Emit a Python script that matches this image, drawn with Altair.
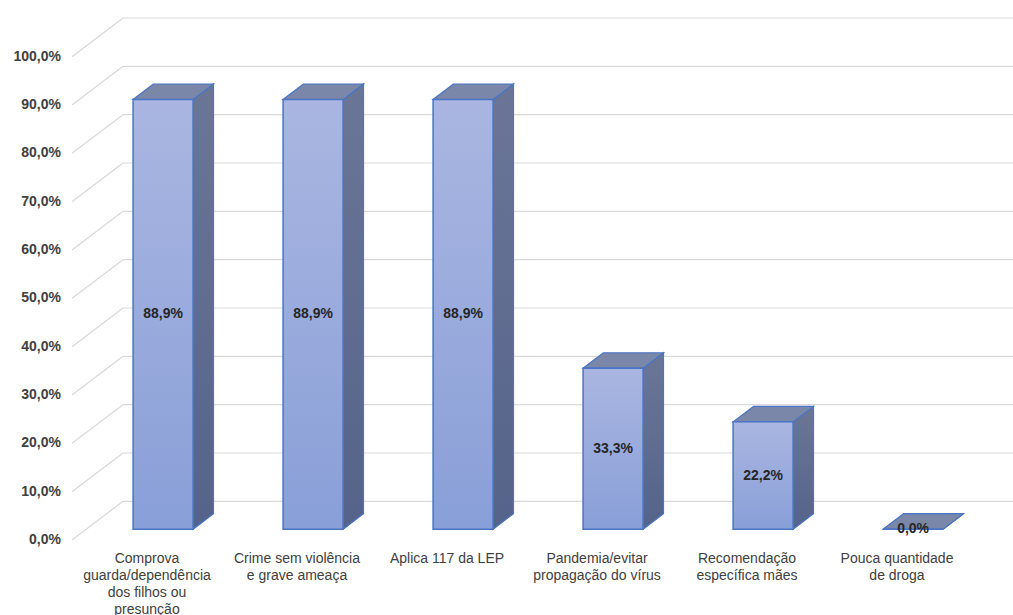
import altair as alt
import pandas as pd

# ---------------- data ----------------
categories = [
    "Comprova guarda/dependência dos filhos ou presunção",
    "Crime sem violência e grave ameaça",
    "Aplica 117 da LEP",
    "Pandemia/evitar propagação do vírus",
    "Recomendação específica mães",
    "Pouca quantidade de droga",
]
category_lines = [
    ["Comprova", "guarda/dependência", "dos filhos ou", "presunção"],
    ["Crime sem violência", "e grave ameaça"],
    ["Aplica 117 da LEP"],
    ["Pandemia/evitar", "propagação do vírus"],
    ["Recomendação", "específica mães"],
    ["Pouca quantidade", "de droga"],
]
values = [88.9, 88.9, 88.9, 33.3, 22.2, 0.0]
y_ticks = [0, 10, 20, 30, 40, 50, 60, 70, 80, 90, 100]
y_tick_labels = ["0,0%", "10,0%", "20,0%", "30,0%", "40,0%", "50,0%",
                 "60,0%", "70,0%", "80,0%", "90,0%", "100,0%"]

# ---------------- 3D projection settings (style) ----------------
DU = 0.34      # full depth, horizontal shift (category units)
DV = 8.0       # full depth, vertical shift (percentage units)
GAP = 0.312    # gap on left of bar within a category
BARW = 0.4     # bar width (category units)
F0, F1 = 0.28, 0.68   # bar depth span (fraction of full depth)
XMAX = 941 / 150
YMAX = 108

ddx = (F1 - F0) * DU
ddy = (F1 - F0) * DV

front_rows, side_rows, top_rows, lab_rows = [], [], [], []
for i, (c, v) in enumerate(zip(categories, values)):
    xl = i + GAP + F0 * DU
    xr = xl + BARW
    vb = F0 * DV
    vt = vb + v
    front_rows.append(dict(cat=c, xl=xl, xr=xr, vb=vb, vt=vt,
                           xc=(xl + xr) / 2, ym=vb + v / 2,
                           vlabel=f"{v:.1f}".replace(".", ",") + "%"))
    side_rows.append(dict(cat=c, x=xr, y=vt, y2=vb))
    side_rows.append(dict(cat=c, x=xr + ddx, y=vt + ddy, y2=vb + ddy))
    top_rows.append(dict(cat=c, y=vt, x=xl, x2=xr))
    top_rows.append(dict(cat=c, y=vt + ddy, x=xl + ddx, x2=xr + ddx))
    lab_rows.append(dict(cat=c, xc=i + 0.5, lines=category_lines[i]))

front_df = pd.DataFrame(front_rows)
side_df = pd.DataFrame(side_rows)
top_df = pd.DataFrame(top_rows)
lab_df = pd.DataFrame(lab_rows)
grid_df = pd.DataFrame(dict(v=y_ticks, lab=y_tick_labels))
grid_df["vb"] = grid_df["v"] + DV
grid_df["x0"] = 0.0
grid_df["x1"] = DU
grid_df["x2"] = XMAX

xs = alt.Scale(domain=[0, XMAX], nice=False, zero=False)
ys = alt.Scale(domain=[0, YMAX], nice=False, zero=False)

STROKE = "#4A74C6"
GRID = "#D9D9D9"

# y tick labels (front plane of left wall)
ylabels = alt.Chart(grid_df).mark_text(
    font="Liberation Sans", fontSize=14, fontWeight="bold", color="#404040",
    align="right", baseline="middle",
).encode(
    x=alt.value(-11),
    y=alt.Y("v:Q", scale=ys, axis=None),
    text="lab:N",
)

# left wall diagonals
diag = alt.Chart(grid_df).mark_rule(color=GRID, strokeWidth=1.2).encode(
    x=alt.X("x0:Q", scale=xs, axis=None),
    x2="x1:Q",
    y=alt.Y("v:Q", scale=ys, axis=None),
    y2="vb:Q",
)
# back wall gridlines
back = alt.Chart(grid_df).mark_rule(color=GRID, strokeWidth=1.2).encode(
    x=alt.X("x1:Q", scale=xs, axis=None),
    x2="x2:Q",
    y=alt.Y("vb:Q", scale=ys, axis=None),
)

side_fill = alt.Gradient(
    gradient="linear", x1=0, x2=0, y1=0, y2=1,
    stops=[alt.GradientStop(color="#6B7697", offset=0),
           alt.GradientStop(color="#55638A", offset=1)],
)
front_fill = alt.Gradient(
    gradient="linear", x1=0, x2=0, y1=0, y2=1,
    stops=[alt.GradientStop(color="#AAB6E1", offset=0),
           alt.GradientStop(color="#899FD8", offset=1)],
)

side = alt.Chart(side_df).mark_area(
    orient="vertical", fill=side_fill, stroke=STROKE, strokeWidth=1.2,
    strokeJoin="miter", opacity=1,
).encode(
    x=alt.X("x:Q", scale=xs, axis=None),
    y=alt.Y("y:Q", scale=ys, axis=None),
    y2="y2:Q",
    detail="cat:N",
)

top = alt.Chart(top_df).mark_area(
    orient="horizontal", fill="#7B87A8", stroke=STROKE, strokeWidth=1.2,
    strokeJoin="miter", opacity=1,
).encode(
    y=alt.Y("y:Q", scale=ys, axis=None),
    x=alt.X("x:Q", scale=xs, axis=None),
    x2="x2:Q",
    detail="cat:N",
)

front = alt.Chart(front_df).mark_rect(
    fill=front_fill, stroke=STROKE, strokeWidth=1.5,
).encode(
    x=alt.X("xl:Q", scale=xs, axis=None),
    x2="xr:Q",
    y=alt.Y("vb:Q", scale=ys, axis=None),
    y2="vt:Q",
)

vals = alt.Chart(front_df).mark_text(
    font="Liberation Sans", fontSize=14, fontWeight="bold", color="#262626",
    baseline="middle", align="center",
).encode(
    x=alt.X("xc:Q", scale=xs, axis=None),
    y=alt.Y("ym:Q", scale=ys, axis=None),
    text="vlabel:N",
)

cats = alt.Chart(lab_df).mark_text(
    font="Liberation Sans", fontSize=14, color="#404040",
    baseline="top", align="center", lineHeight=17,
).encode(
    x=alt.X("xc:Q", scale=xs, axis=None),
    y=alt.value(534),
    text="lines",
)

chart = alt.layer(diag, back, side, top, front, vals, cats, ylabels).properties(
    width=941, height=522,
    autosize=alt.AutoSizeParams(type="none"),
    padding={"left": 72, "top": 18, "right": 0, "bottom": 75},
    background="white",
).configure_view(stroke=None)

chart.save("out.html", embed_options={"renderer": "svg", "actions": False})
